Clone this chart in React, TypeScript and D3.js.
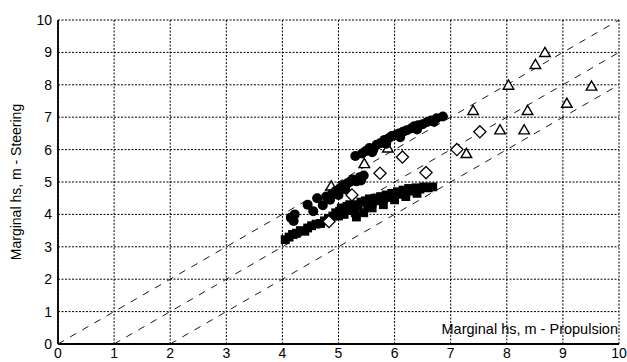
import * as d3 from "d3";

// propulsion (x) vs steering (y) marginal hs, m
const circles: [number, number][] = [
  [4.15, 3.9], [4.2, 3.8], [4.22, 4.0], [4.45, 4.3], [4.55, 4.1], [4.62, 4.5],
  [4.72, 4.28], [4.78, 4.55], [4.85, 4.45], [4.88, 4.62], [4.95, 4.72], [5.0, 4.6],
  [5.02, 4.8], [5.08, 4.9], [5.12, 4.78], [5.15, 4.95], [5.2, 5.0], [5.25, 5.08],
  [5.32, 5.02], [5.38, 5.15], [5.4, 5.05], [5.45, 5.2],
  [5.3, 5.8], [5.42, 5.88], [5.48, 5.95], [5.55, 6.05], [5.6, 5.92], [5.62, 6.0],
  [5.68, 6.15], [5.75, 6.2], [5.82, 6.3], [5.85, 6.18], [5.9, 6.36], [5.95, 6.42],
  [6.02, 6.45], [6.08, 6.5], [6.1, 6.38], [6.15, 6.55], [6.22, 6.6], [6.3, 6.66],
  [6.35, 6.72], [6.4, 6.62], [6.42, 6.75], [6.5, 6.78], [6.58, 6.85], [6.65, 6.9],
  [6.7, 6.86], [6.75, 6.97], [6.86, 7.02],
];

const squares: [number, number][] = [
  [4.05, 3.22], [4.12, 3.3], [4.18, 3.38], [4.25, 3.42], [4.32, 3.5], [4.4, 3.48],
  [4.45, 3.58], [4.52, 3.65], [4.6, 3.7], [4.68, 3.72], [4.75, 3.8], [4.82, 3.88],
  [4.9, 3.95], [4.95, 4.05], [5.0, 3.95], [5.02, 4.1], [5.05, 4.2], [5.1, 4.0],
  [5.15, 4.25], [5.2, 4.3], [5.22, 4.12], [5.28, 4.2], [5.3, 4.05], [5.32, 3.92],
  [5.35, 4.3], [5.4, 4.38], [5.45, 4.05], [5.48, 4.42], [5.52, 4.25], [5.55, 4.48],
  [5.6, 4.2], [5.6, 4.35], [5.65, 4.5], [5.7, 4.42], [5.75, 4.55], [5.8, 4.3],
  [5.8, 4.48], [5.85, 4.6], [5.9, 4.52], [5.95, 4.65], [6.0, 4.45], [6.0, 4.58],
  [6.05, 4.7], [6.1, 4.62], [6.15, 4.75], [6.2, 4.55], [6.2, 4.68], [6.25, 4.8],
  [6.3, 4.72], [6.38, 4.82], [6.4, 4.65], [6.45, 4.78], [6.52, 4.85], [6.6, 4.82],
  [6.68, 4.85],
];

const diamonds: [number, number][] = [
  [4.83, 3.78], [5.24, 4.6], [5.74, 5.27], [6.14, 5.77], [6.56, 5.29], [7.11, 6.0], [7.52, 6.55],
];

const triangles: [number, number][] = [
  [4.87, 4.88], [5.46, 5.57], [5.88, 6.05], [7.28, 5.88], [7.4, 7.21], [7.88, 6.61],
  [8.03, 7.99], [8.31, 6.61], [8.37, 7.21], [8.51, 8.63], [8.68, 9.0], [9.07, 7.43], [9.51, 7.96],
];

const ticks = [0, 1, 2, 3, 4, 5, 6, 7, 8, 9, 10];
const offsets = [0, 1, 2];

const W = 627;
const H = 362;
const m = { left: 58, right: 8, top: 20, bottom: 18 };

export default function App() {
  const x = d3.scaleLinear().domain([0, 10]).range([m.left, W - m.right]);
  const y = d3.scaleLinear().domain([0, 10]).range([H - m.bottom, m.top]);
  const font = "Liberation Sans, Arial, sans-serif";

  const sym = (type: d3.SymbolType, size: number) => d3.symbol().type(type).size(size)() as string;
  const sq = sym(d3.symbolSquare, 78);
  const tri = sym(d3.symbolTriangle2, 80);
  const dia = sym(d3.symbolDiamond2, 95);

  return (
    <div style={{ position: "fixed", left: 0, top: 0 }}>
      <svg width={W} height={H} style={{ display: "block", background: "#fff" }}>
        {/* grid */}
        {ticks.map((t) => (
          <g key={"g" + t}>
            <line x1={x(t)} x2={x(t)} y1={y(0)} y2={y(10)} stroke="#000" strokeWidth={1} strokeDasharray="2,1.5" />
            <line x1={x(0)} x2={x(10)} y1={y(t)} y2={y(t)} stroke="#000" strokeWidth={1} strokeDasharray="2,1.5" />
          </g>
        ))}
        {/* axes */}
        <line x1={x(0)} x2={x(10)} y1={y(0)} y2={y(0)} stroke="#000" strokeWidth={2} />
        <line x1={x(0)} x2={x(0)} y1={y(0)} y2={y(10)} stroke="#000" strokeWidth={1.8} />
        {/* reference lines y = x - k */}
        {offsets.map((k) => (
          <line key={"r" + k} x1={x(k)} y1={y(0)} x2={x(10)} y2={y(10 - k)}
            stroke="#000" strokeWidth={0.9} strokeDasharray="7,7" />
        ))}
        {/* markers */}
        {triangles.map(([a, b], i) => (
          <path key={"t" + i} d={tri} transform={`translate(${x(a)},${y(b) + 1})`} fill="#fff" stroke="#000" strokeWidth={1.4} />
        ))}
        {circles.map(([a, b], i) => (
          <circle key={"c" + i} cx={x(a)} cy={y(b)} r={5} fill="#000" />
        ))}
        {squares.map(([a, b], i) => (
          <path key={"s" + i} d={sq} transform={`translate(${x(a)},${y(b)})`} fill="#000" />
        ))}
        {diamonds.map(([a, b], i) => (
          <path key={"d" + i} d={dia} transform={`translate(${x(a)},${y(b)})`} fill="#fff" stroke="#000" strokeWidth={1.3} />
        ))}
        {/* tick labels */}
        {ticks.map((t) => (
          <text key={"xl" + t} x={x(t)} y={H - 4} textAnchor="middle" fontFamily={font} fontSize={14}>{t}</text>
        ))}
        {ticks.map((t) => (
          <text key={"yl" + t} x={52} y={y(t) + 5} textAnchor="end" fontFamily={font} fontSize={14}>{t}</text>
        ))}
        <text x={x(10) - 1} y={334} textAnchor="end" fontFamily={font} fontSize={14.5}>Marginal hs, m - Propulsion</text>
        <text transform={`translate(21,${(y(0) + y(10)) / 2}) rotate(-90)`} textAnchor="middle" fontFamily={font} fontSize={14}>
          Marginal hs, m - Steering
        </text>
      </svg>
    </div>
  );
}
